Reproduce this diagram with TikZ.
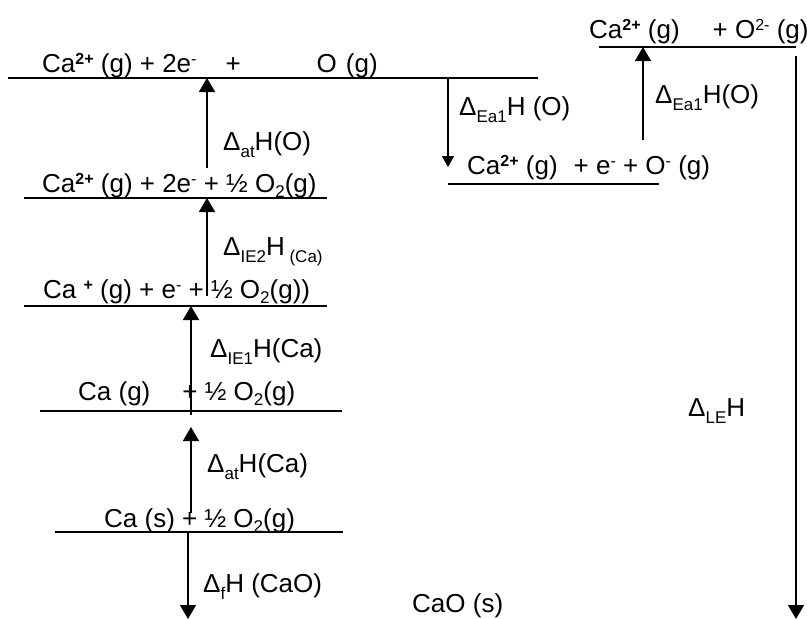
\documentclass[tikz,border=0pt]{standalone}
\usepackage{fontspec}
\setmainfont{Liberation Sans}
\usetikzlibrary{arrows.meta}
\newcommand\spb[1]{\raisebox{8pt}{\fontsize{16}{16}\selectfont\bfseries #1}}
\newcommand\spr[1]{\raisebox{8pt}{\fontsize{16}{16}\selectfont #1}}
\newcommand\sbs[1]{\raisebox{-7pt}{\fontsize{17}{17}\selectfont #1}}
\newcommand\sbt[1]{\raisebox{-5pt}{\fontsize{17}{17}\selectfont #1}}
\begin{document}
\begin{tikzpicture}[x=1pt,y=-1pt,
  lvl/.style={line width=1.6pt},
  arr/.style={line width=1.6pt,-{Triangle[length=14pt,width=16pt]}},
  arrs/.style={line width=1.6pt,-{Triangle[length=11pt,width=12pt]}},
  txt/.style={anchor=base west,inner sep=0pt,font=\fontsize{26}{30}\selectfont}]
\useasboundingbox (0,0) rectangle (807,619);
% level coordinates
\coordinate (L1a) at (8,78);   \coordinate (L1b) at (538,78);
\coordinate (L2a) at (24,198); \coordinate (L2b) at (327,198);
\coordinate (L3a) at (24,306); \coordinate (L3b) at (327,306);
\coordinate (L4a) at (40,411); \coordinate (L4b) at (342,411);
\coordinate (L5a) at (55,532); \coordinate (L5b) at (343,532);
\coordinate (R1a) at (599,47); \coordinate (R1b) at (796,47);
\coordinate (R2a) at (448,184); \coordinate (R2b) at (659,184);
\foreach \a/\b in {L1a/L1b,L2a/L2b,L3a/L3b,L4a/L4b,L5a/L5b,R1a/R1b,R2a/R2b}
  \draw[lvl] (\a) -- (\b);
% texts
\node[txt] (t1) at (42,72) {Ca\spb{2+} (g) + 2e\spr{-}\hspace{29pt}+\hspace{76pt}O\hspace{9pt}(g)};
\node[txt] (t2) at (42,192) {Ca\spb{2+} (g) + 2e\spr{-} + ½ O\sbt{2}(g)};
\node[txt] (t3) at (43,298) {Ca \spb{+} (g) + e\spr{-} + ½ O\sbt{2}(g))};
\node[txt] (t4) at (78,400) {Ca (g)\hspace{32pt}+ ½ O\sbt{2}(g)};
\node[txt] (t5) at (104,527) {Ca (s) + ½ O\sbt{2}(g)};
\node[txt] (t6) at (412,612) {CaO (s)};
\node[txt] (t7) at (589,38) {Ca\spb{2+} (g)\hspace{33pt}+ O\spr{2-} (g)};
\node[txt] (t8) at (467,174) {Ca\spb{2+} (g)\hspace{16pt}+ e\spr{-} + O\spr{-} (g)};
% labels
\node[txt] (d1) at (223,150) {Δ\sbs{at}H(O)};
\node[txt] (d2) at (223,255) {Δ\sbs{IE2}H\sbs{ (Ca)}};
\node[txt] (d3) at (210,357) {Δ\sbs{IE1}H(Ca)};
\node[txt] (d4) at (207,472) {Δ\sbs{at}H(Ca)};
\node[txt] (d5) at (203,592) {Δ\sbs{f}H (CaO)};
\node[txt] (d6) at (688,416) {Δ\sbs{LE}H};
\node[txt] (d7) at (655,103) {Δ\sbs{Ea1}H(O)};
\node[txt] (d8) at (459,115) {Δ\sbs{Ea1}H (O)};
% arrow endpoints
\coordinate (a1s) at (207,168); \coordinate (a1e) at (207,78);
\coordinate (a2s) at (207,296); \coordinate (a2e) at (207,198);
\coordinate (a3s) at (191,415); \coordinate (a3e) at (191,306);
\coordinate (a4s) at (191,513); \coordinate (a4e) at (191,427);
\coordinate (a5s) at (188,532); \coordinate (a5e) at (188,619);
\coordinate (a6s) at (448,78);  \coordinate (a6e) at (448,167);
\coordinate (a7s) at (643,140); \coordinate (a7e) at (643,47);
\coordinate (a8s) at (796,56);  \coordinate (a8e) at (796,619);
\draw[arr] (a1s) -- (a1e);
\draw[arr] (a2s) -- (a2e);
\draw[arr] (a3s) -- (a3e);
\draw[arr] (a4s) -- (a4e);
\draw[arr] (a5s) -- (a5e);
\draw[arrs] (a6s) -- (a6e);
\draw[arr] (a7s) -- (a7e);
\draw[arr] (a8s) -- (a8e);
\end{tikzpicture}
\end{document}
